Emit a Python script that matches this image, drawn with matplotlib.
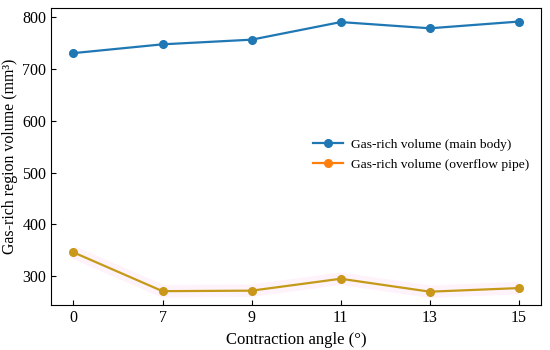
import numpy as np
import matplotlib
matplotlib.use("Agg")
import matplotlib.pyplot as plt

plt.rcParams["font.family"] = ["Liberation Serif", "DejaVu Serif"]
plt.rcParams["mathtext.fontset"] = "stix"

angles = ["0", "7", "9", "11", "13", "15"]
main_body = [731, 748, 757, 791, 779, 792]
overflow_pipe = [346, 271, 272, 295, 270, 277]

x = np.arange(len(angles))

fig, ax = plt.subplots(figsize=(5.5, 3.5), dpi=100)

ax.plot(x, main_body, "-o", color="#1f77b4", lw=1.6, ms=5.5,
        label="Gas-rich volume (main body)")
# faint pink halo behind the lower line
ax.plot(x, overflow_pipe, "-", color="#ff66cc", lw=9, alpha=0.08, solid_capstyle="butt")
ax.plot(x, overflow_pipe, "-", color="#c49a18", lw=1.6, zorder=3)
ax.plot(x, overflow_pipe, "o", color="#c9971a", ms=5.5, zorder=4)
ax.plot([], [], "-o", color="#ff7f0e", lw=1.6, ms=5.5,
        label="Gas-rich volume (overflow pipe)")

ax.set_xticks(x)
ax.set_xticklabels(angles)
ax.set_xlabel("Contraction angle (°)", fontsize=12)
ax.set_ylabel("Gas-rich region volume (mm³)", fontsize=11.4, labelpad=3)
ax.tick_params(direction="in", labelsize=11.5)
ax.set_yticks([300, 400, 500, 600, 700, 800])
ax.legend(loc="center right", frameon=False, fontsize=9.7,
          handlelength=2.2, handletextpad=0.6, labelspacing=0.55,
          bbox_to_anchor=(1.0, 0.507))

fig.subplots_adjust(left=0.093, right=0.984, top=0.977, bottom=0.128)
fig.savefig("out.png", dpi=100)
